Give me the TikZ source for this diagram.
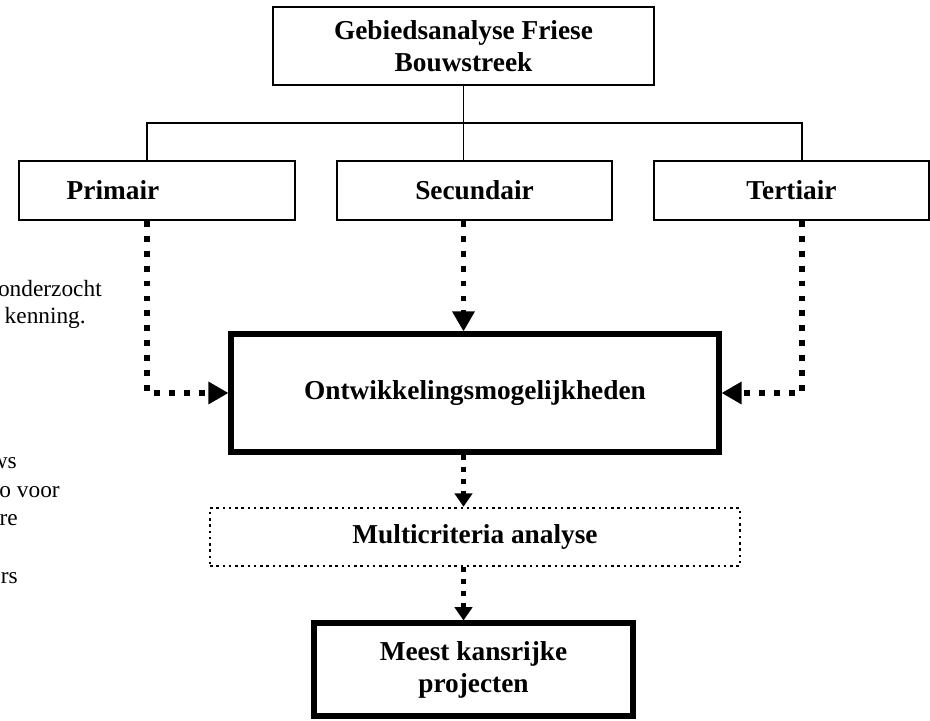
\documentclass[tikz,border=0pt]{standalone}
\usepackage{fontspec}
\setmainfont{Liberation Serif}
\usetikzlibrary{arrows.meta}
\begin{document}
\begin{tikzpicture}[x=0.75pt,y=-0.75pt,
  box/.style={draw,line width=1.3pt,inner sep=0pt,align=center,
    font=\fontsize{20.5}{24}\selectfont\bfseries},
  thickbox/.style={box,line width=3.8pt},
  dotbox/.style={box,line width=1.9pt,dash pattern=on 1.9pt off 2.8pt},
  tree/.style={line width=1.2pt},
  flow/.style={line width=4.4pt,dash pattern=on 4.4pt off 6.8pt,
    -{Triangle[length=15pt,width=16pt]}},
  flowlow/.style={line width=3.8pt,dash pattern=on 3.8pt off 5.2pt,
    -{Triangle[length=10pt,width=13pt]}},
  note/.style={anchor=east,inner sep=0pt,font=\fontsize{17.5}{21}\selectfont}]

\useasboundingbox (0,0) rectangle (930,720);

% boxes
\node[box,minimum width=381*0.75pt,minimum height=78*0.75pt] (gebied) at (463.5,46)
  {Gebiedsanalyse Friese\\Bouwstreek};
\node[box,minimum width=276*0.75pt,minimum height=59*0.75pt] (prim) at (157,190.5)
  {Primair\hspace*{66pt}};
\node[box,minimum width=275*0.75pt,minimum height=59*0.75pt] (sec) at (474.5,190.5) {Secundair};
\node[box,minimum width=275*0.75pt,minimum height=59*0.75pt] (tert) at (791.5,190.5) {Tertiair};
\node[thickbox,minimum width=488*0.75pt,minimum height=118*0.75pt] (ontw) at (475,393)
  {Ontwikkelingsmogelijkheden};
\node[dotbox,minimum width=530*0.75pt,minimum height=58*0.75pt] (mca) at (475,537)
  {Multicriteria analyse};
\node[thickbox,minimum width=319*0.75pt,minimum height=93*0.75pt] (kans) at (473.5,669.5)
  {Meest kansrijke\\projecten};

% tree
\coordinate (tl) at (147,123);
\coordinate (tr) at (802,123);
\draw[tree] (gebied.south) -- (gebied.south |- sec.north);
\draw[tree] (prim.north -| tl) -- (tl) -- (tr) -- (tert.north -| tr);

% flows
\draw[flow] (prim.south -| tl) |- (ontw.west);
\draw[flow] (tert.south -| tr) |- (ontw.east);
\draw[flow] (sec.south -| gebied.south) -- (ontw.north -| gebied.south);
\draw[flowlow] (ontw.south -| gebied.south) -- (mca.north -| gebied.south);
\draw[flowlow] (mca.south -| gebied.south) -- (kans.north -| gebied.south);

% cut-off text on the left
\node[note] (n1) at (102,289) {onderzocht};
\node[note] (n2) at (86,318) {kenning.};
\node[note] (n3) at (17,463) {ws};
\node[note] (n4) at (60,492) {o voor};
\node[note] (n5) at (18,520) {re};
\node[note] (n6) at (18,578) {rs};

\end{tikzpicture}
\end{document}
